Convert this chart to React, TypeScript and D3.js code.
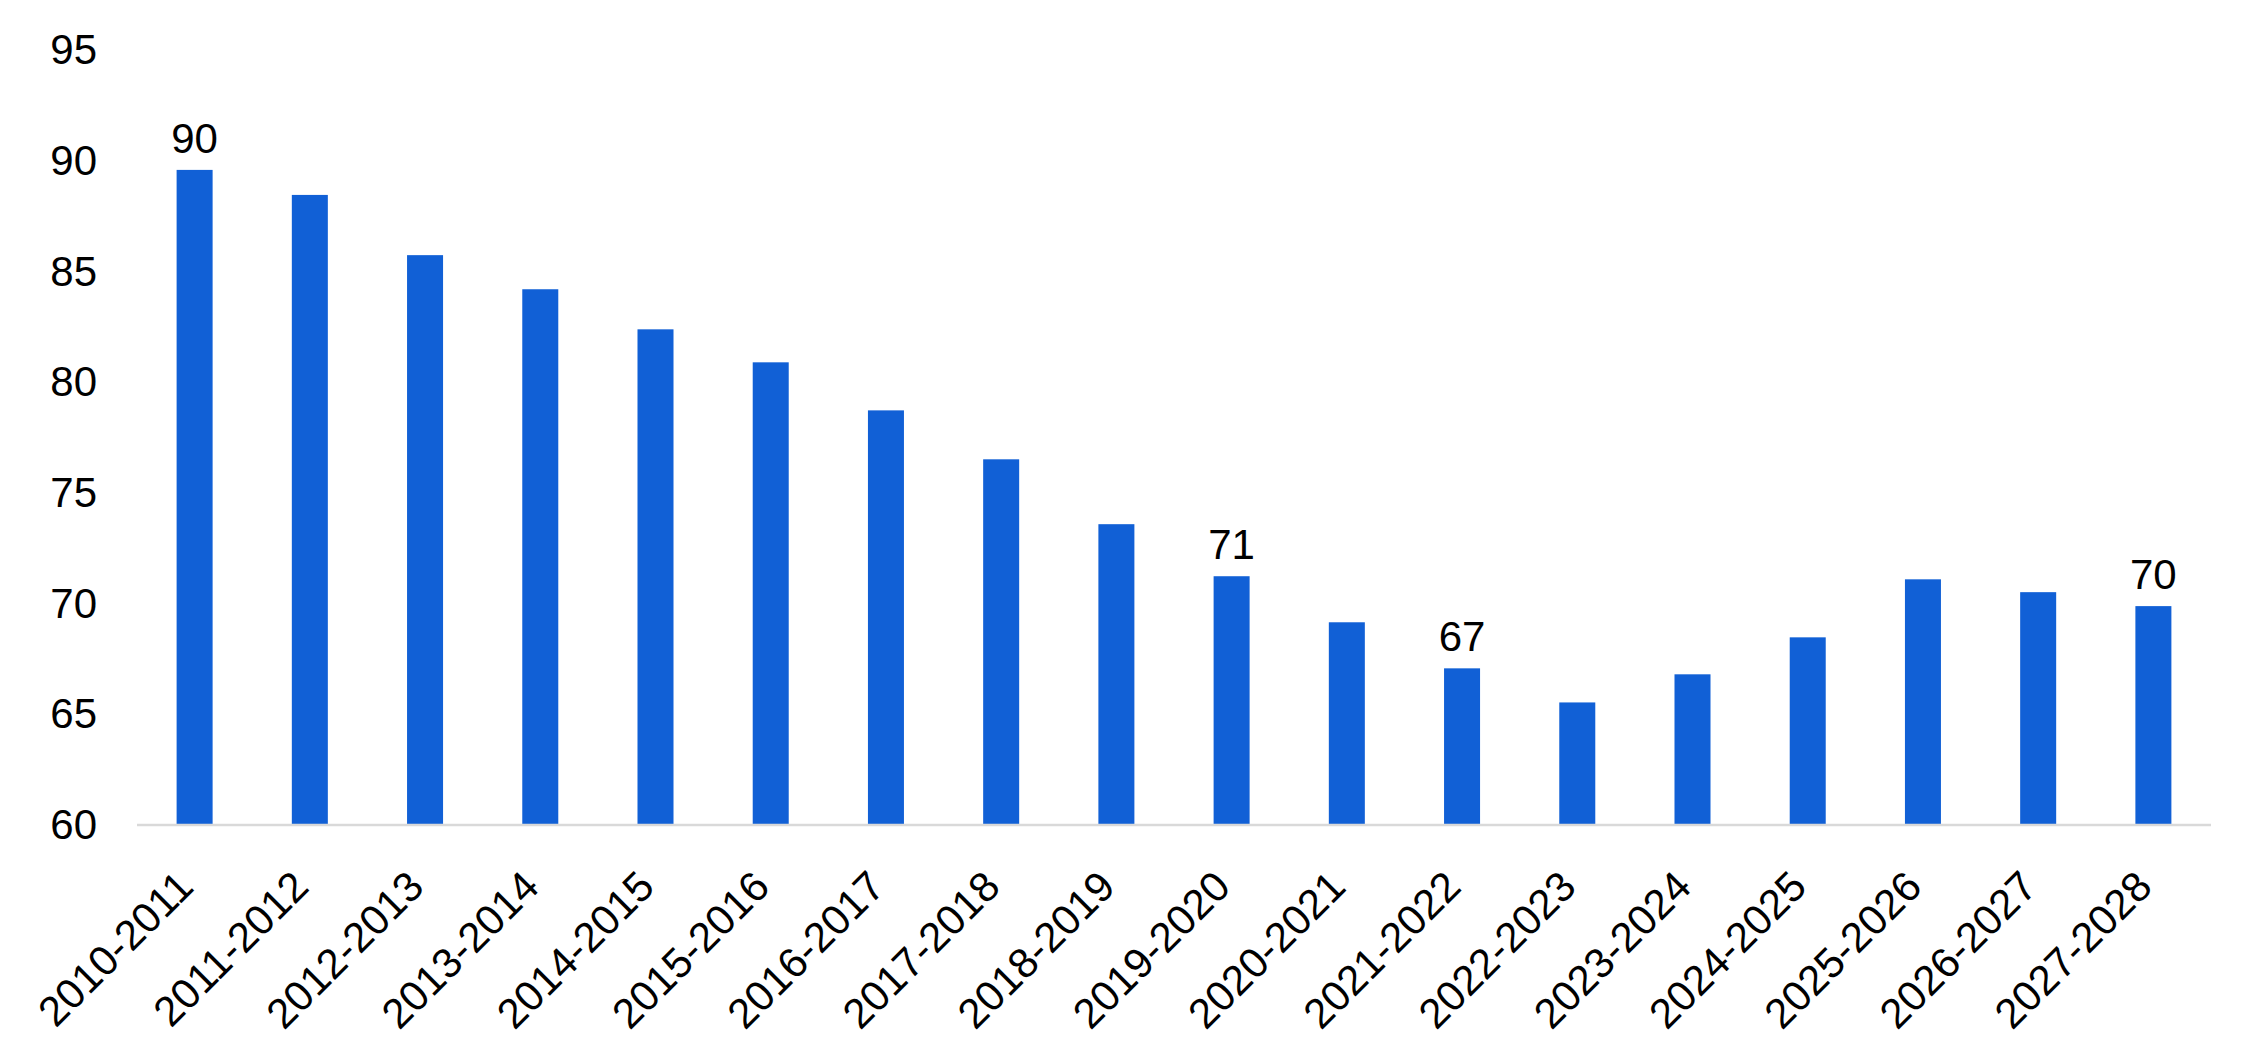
import React from "react";
import * as d3 from "d3";

const categories = [
  "2010-2011", "2011-2012", "2012-2013", "2013-2014", "2014-2015", "2015-2016",
  "2016-2017", "2017-2018", "2018-2019", "2019-2020", "2020-2021", "2021-2022",
  "2022-2023", "2023-2024", "2024-2025", "2025-2026", "2026-2027", "2027-2028",
];
const values = [
  89.54, 88.41, 85.69, 84.15, 82.34, 80.85, 78.68, 76.47, 73.54,
  71.19, 69.11, 67.03, 65.49, 66.76, 68.43, 71.05, 70.47, 69.84,
];
const labeledIndices = [0, 9, 11, 17];
const yTicks = [60, 65, 70, 75, 80, 85, 90, 95];

const W = 2261;
const H = 1064;
const FONT = "'Liberation Sans', Arial, sans-serif";

export default function App() {
  const x = d3
    .scaleBand<string>()
    .domain(categories)
    .range([137, 2211])
    .paddingInner(0.6875)
    .paddingOuter(0.34375);
  const y = d3.scaleLinear().domain([60, 95]).range([824, 49]);
  const axisY = y(60);

  return (
    <svg
      width={W}
      height={H}
      style={{ position: "absolute", left: 0, top: 0, background: "#fff" }}
    >
      {yTicks.map((t) => (
        <text
          key={t}
          x={97}
          y={y(t)}
          dy="0.36em"
          textAnchor="end"
          fontFamily={FONT}
          fontSize={42}
          fill="#000"
        >
          {t}
        </text>
      ))}
      {categories.map((c, i) => (
        <rect
          key={c}
          x={x(c)}
          y={y(values[i])}
          width={x.bandwidth()}
          height={axisY - y(values[i])}
          fill="#1160d6"
        />
      ))}
      <line
        x1={137}
        x2={2211}
        y1={axisY + 1}
        y2={axisY + 1}
        stroke="#d9d9d9"
        strokeWidth={2.5}
      />
      {labeledIndices.map((i) => (
        <text
          key={i}
          x={(x(categories[i]) as number) + x.bandwidth() / 2}
          y={y(values[i]) - 17}
          textAnchor="middle"
          fontFamily={FONT}
          fontSize={42}
          fill="#000"
        >
          {Math.round(values[i])}
        </text>
      ))}
      {categories.map((c) => {
        const cx = (x(c) as number) + x.bandwidth() / 2 + 1;
        const cy = axisY + 65;
        return (
          <text
            key={c}
            x={cx}
            y={cy}
            textAnchor="end"
            transform={`rotate(-45 ${cx} ${cy})`}
            fontFamily={FONT}
            fontSize={42}
            fill="#000"
          >
            {c}
          </text>
        );
      })}
    </svg>
  );
}
